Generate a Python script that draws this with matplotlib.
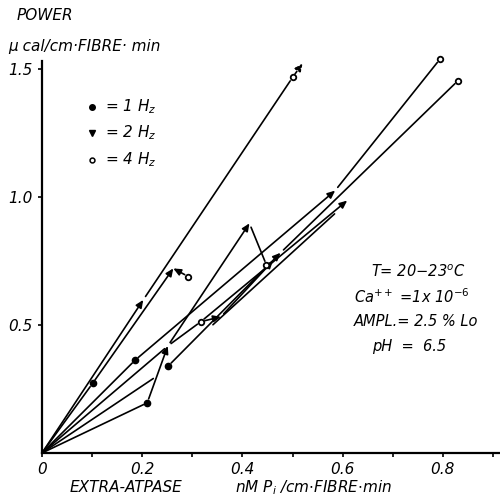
import matplotlib
matplotlib.use("Agg")
import matplotlib.pyplot as plt

# points (x: nM Pi/cm fibre min, y: ucal/cm fibre min)
hz1_x = [0.101, 0.186, 0.252, 0.210]
hz1_y = [0.272, 0.363, 0.340, 0.196]
hz2_x = [0.202, 0.262, 0.251, 0.357, 0.414, 0.461, 0.476, 0.585, 0.520, 0.609]
hz2_y = [0.598, 0.721, 0.418, 0.532, 0.897, 0.751, 0.782, 1.025, 1.522, 0.986]
hz4_x = [0.292, 0.317, 0.448, 0.500, 0.794, 0.830]
hz4_y = [0.689, 0.513, 0.734, 1.467, 1.538, 1.454]

# straight lines from the origin
ray_x = [0.101, 0.186, 0.251, 0.229, 0.210]
ray_y = [0.272, 0.363, 0.418, 0.300, 0.196]

# arrows (head at the 2 Hz point)
arr_x0 = [0.0, 0.101, 0.292, 0.186, 0.210, 0.251, 0.252, 0.317, 0.317, 0.357]
arr_y0 = [0.0, 0.272, 0.689, 0.363, 0.196, 0.418, 0.340, 0.513, 0.513, 0.532]
arr_x1 = [0.202, 0.262, 0.262, 0.585, 0.251, 0.414, 0.476, 0.609, 0.357, 0.461]
arr_y1 = [0.598, 0.721, 0.721, 1.025, 0.418, 0.897, 0.782, 0.986, 0.532, 0.751]

# plain connecting lines
lin_x0 = [0.202, 0.585, 0.414, 0.476, 0.251, 0.590]
lin_y0 = [0.598, 1.025, 0.897, 0.782, 0.418, 0.945]
lin_x1 = [0.500, 0.794, 0.448, 0.830, 0.317, 0.335]
lin_y1 = [1.467, 1.538, 0.734, 1.454, 0.513, 0.490]

# dashed arrow at the top
dash_x = [0.500, 0.520]
dash_y = [1.467, 1.522]

fig = plt.figure(figsize=(5, 5.04), dpi=100)
ax = fig.add_axes([0.084, 0.1012, 0.916, 0.8127])
ax.set_xlim(0, 0.914)
ax.set_ylim(0, 1.6)

lw = 1.2
head = dict(arrowstyle="-|>,head_length=0.45,head_width=0.2", color="black",
            lw=lw, mutation_scale=10)

for x, y in zip(ray_x, ray_y):
    ax.annotate("", xy=(x, y), xytext=(0, 0),
                arrowprops=dict(arrowstyle="-", color="black", lw=lw,
                                shrinkA=0, shrinkB=3))

for x0, y0, x1, y1 in zip(arr_x0, arr_y0, arr_x1, arr_y1):
    ax.annotate("", xy=(x1, y1), xytext=(x0, y0),
                arrowprops=dict(head, shrinkA=0 if x0 == 0 else 3, shrinkB=0))

for x0, y0, x1, y1 in zip(lin_x0, lin_y0, lin_x1, lin_y1):
    ax.annotate("", xy=(x1, y1), xytext=(x0, y0),
                arrowprops=dict(arrowstyle="-", color="black", lw=lw,
                                shrinkA=3, shrinkB=3))

ax.annotate("", xy=(dash_x[1], dash_y[1]), xytext=(dash_x[0], dash_y[0]),
            arrowprops=dict(head, ls=(0, (2, 1.5)), shrinkA=3, shrinkB=0))

ax.plot(hz1_x, hz1_y, "o", color="black", ms=4.5, zorder=5)
ax.plot(hz4_x, hz4_y, "o", mfc="white", mec="black", mew=1.3, ms=4, zorder=5,
        clip_on=False)

# key
ax.plot([0.1], [1.352], "o", color="black", ms=4, clip_on=False)
ax.plot([0.1], [1.25], "v", color="black", ms=5, clip_on=False)
ax.plot([0.1], [1.145], "o", mfc="white", mec="black", mew=1.1, ms=3.5, clip_on=False)
kw = dict(fontsize=11, fontstyle="italic", va="center", ha="left")
ax.text(0.125, 1.352, r"= 1 $H_z$", **kw)
ax.text(0.125, 1.25, r"= 2 $H_z$", **kw)
ax.text(0.125, 1.145, r"= 4 $H_z$", **kw)

# conditions
ck = dict(fontsize=10.5, fontstyle="italic", va="center", ha="left")
fig.text(371 / 500, 1 - 272 / 504, r"T= 20$-$23$^o$C", **ck)
fig.text(354 / 500, 1 - 297 / 504, r"Ca$^{++}$ =1x 10$^{-6}$", **ck)
fig.text(354 / 500, 1 - 322 / 504, r"AMPL.= 2.5 % Lo", **ck)
fig.text(372 / 500, 1 - 346 / 504, r"pH  =  6.5", **ck)

for s in ["top", "right"]:
    ax.spines[s].set_visible(False)
ax.spines["left"].set_linewidth(1.6)
ax.spines["left"].set_bounds(0, 1.53)
ax.spines["bottom"].set_linewidth(1.6)

ax.set_xticks([0, 0.2, 0.4, 0.6, 0.8])
ax.set_xticklabels(["0", "0.2", "0.4", "0.6", "0.8"])
ax.set_xticks([0.1, 0.3, 0.5, 0.7, 0.9], minor=True)
ax.set_yticks([0.5, 1.0, 1.5])
ax.set_yticklabels(["0.5", "1.0", "1.5"])
ax.tick_params(which="both", direction="out", length=3, width=1.2, labelsize=11)
for t in ax.get_xticklabels() + ax.get_yticklabels():
    t.set_fontstyle("italic")

fig.text(17 / 500, 1 - 16 / 504, "POWER", fontsize=11, fontstyle="italic", va="center")
fig.text(8 / 500, 1 - 46 / 504, "\u03bc cal/cm\u00b7FIBRE\u00b7 min", fontsize=11,
         fontstyle="italic", va="center")
fig.text(70 / 500, 1 - 488 / 504, "EXTRA-ATPASE", fontsize=11, fontstyle="italic", va="center")
fig.text(235 / 500, 1 - 488 / 504, r"nM P$_i$ /cm$\cdot$FIBRE$\cdot$min", fontsize=11,
         fontstyle="italic", va="center")

fig.savefig("out.png", dpi=100)
